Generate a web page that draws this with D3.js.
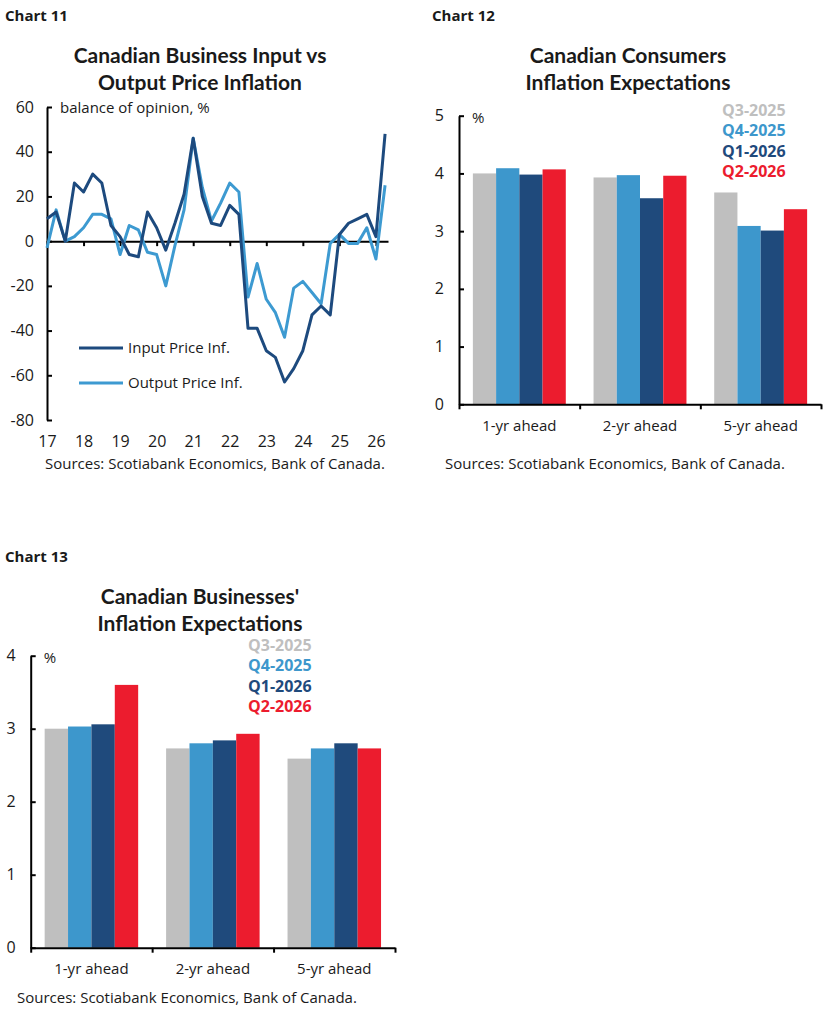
<!DOCTYPE html>
<html>
<head>
<meta charset="utf-8">
<title>Inflation charts</title>
<style>
  body { margin: 0; background: #fff; }
  svg text { font-family: "Open Sans", sans-serif; fill: #1a1a1a; }
  .label { font-weight: 700; font-size: 15px; }
  .title { font-family: Lato, sans-serif; font-weight: 700; font-size: 21px; }
  .tick text { font-size: 15px; }
  .src { font-size: 15px; }
  .legend { font-weight: 700; font-size: 16px; }
  .domain, .tick line { stroke: #000; stroke-width: 2px; }
</style>
</head>
<body>
<svg width="828" height="1023"></svg>
<script src="https://cdnjs.cloudflare.com/ajax/libs/d3/7.8.5/d3.min.js"></script>
<script>
// ---- chart 11 data: quarterly 2017Q1 .. 2026Q2
var quarters = d3.range(38).map(function(i){ return 2017 + i / 4; });
var inputPrice = [10, 13, 0, 26, 22, 30, 26, 7, 2, -6, -7, 13, 6, -4, 8, 21,
                  46, 20, 8, 7, 16, 12, -39, -39, -49, -52, -63, -57, -49, -33,
                  -29, -33, 3, 8, 10, 12, 2, 48];
var outputPrice = [-3, 14, 0, 2, 6, 12, 12, 10, -6, 7, 5, -5, -6, -20, -2, 14,
                   46, 24, 9, 17, 26, 22, -25, -10, -26, -32, -43, -21, -18, -23,
                   -28, -1, 3, -1, -1, 6, -8, 25];
var yearTicks = d3.range(2017, 2027);

// ---- charts 12 and 13
var horizons = ["1-yr ahead", "2-yr ahead", "5-yr ahead"];
var surveys = ["Q3-2025", "Q4-2025", "Q1-2026", "Q2-2026"];
var consumers = [
  [4.0, 4.09, 3.98, 4.07],
  [3.93, 3.97, 3.57, 3.96],
  [3.67, 3.09, 3.01, 3.38]
];
var businesses = [
  [3.0, 3.03, 3.06, 3.6],
  [2.73, 2.8, 2.84, 2.93],
  [2.59, 2.73, 2.8, 2.73]
];
var surveyColors = ["#bfbfbf", "#3d97cc", "#1f4a7c", "#ec1c2e"];

var svg = d3.select("svg");
var plain = function(d){ return String(d); };   // hyphen minus like the original

function header(x, y, chartName, lines, cx) {
  svg.append("text").attr("class", "label").attr("x", x).attr("y", y).text(chartName);
  lines.forEach(function(t, i){
    svg.append("text").attr("class", "title")
      .attr("x", cx).attr("y", y + 42 + i * 27)
      .attr("text-anchor", "middle").text(t);
  });
}

// ================= Chart 11 =================
header(5, 21, "Chart 11", ["Canadian Business Input vs", "Output Price Inflation"], 200);

var x11 = d3.scaleLinear().domain([2017, 2026.33]).range([47, 388]);
var y11 = d3.scaleLinear().domain([-80, 60]).range([420, 107]);

var g11 = svg.append("g");
g11.append("g").attr("transform", "translate(47,0)")
  .call(d3.axisLeft(y11).tickValues(d3.range(-80, 61, 20)).tickSize(-5).tickSizeOuter(0).tickPadding(13).tickFormat(plain))
  .call(function(g){ g.selectAll(".tick text").style("font-size", "16px"); });

g11.append("g").attr("transform", "translate(0," + y11(0) + ")")
  .call(d3.axisBottom(x11).tickValues(yearTicks).tickSize(5).tickSizeOuter(0).tickFormat(""));

g11.append("g").attr("transform", "translate(0,421)")
  .call(d3.axisBottom(x11).tickValues(yearTicks).tickSize(0).tickPadding(15)
    .tickFormat(function(d){ return String(d).slice(2); }))
  .call(function(g){ g.select(".domain").remove(); g.selectAll(".tick text").style("font-size", "16px"); });

svg.append("text").attr("x", 60).attr("y", 113).style("font-size", "15px").text("balance of opinion, %");

var line11 = function(vals){
  return d3.line().x(function(d, i){ return x11(quarters[i]); }).y(function(d){ return y11(d); })(vals);
};
g11.append("path").attr("d", line11(outputPrice)).attr("fill", "none")
  .attr("stroke", "#3d9ad1").attr("stroke-width", 3).attr("stroke-linejoin", "round");
g11.append("path").attr("d", line11(inputPrice)).attr("fill", "none")
  .attr("stroke", "#1d4a7e").attr("stroke-width", 3).attr("stroke-linejoin", "round");

[["Input Price Inf.", "#1d4a7e", 348], ["Output Price Inf.", "#3d9ad1", 383]].forEach(function(l){
  g11.append("line").attr("x1", 79).attr("x2", 123).attr("y1", l[2]).attr("y2", l[2])
    .attr("stroke", l[1]).attr("stroke-width", 3);
  g11.append("text").attr("x", 128).attr("y", l[2] + 5).style("font-size", "15px").text(l[0]);
});

svg.append("text").attr("class", "src").attr("x", 45).attr("y", 469)
  .text("Sources: Scotiabank Economics, Bank of Canada.");

// ================= grouped bar helper =================
function barChart(opt) {
  var g = svg.append("g");
  var x0 = d3.scaleBand().domain(horizons).range([opt.left, opt.right])
    .paddingInner(0.23).paddingOuter(0.115);
  var x1 = d3.scaleBand().domain(surveys).range([0, x0.bandwidth()]);
  var y = d3.scaleLinear().domain([0, opt.max]).range([opt.bottom, opt.top]);

  horizons.forEach(function(h, hi){
    g.append("g").selectAll("rect").data(opt.values[hi]).enter().append("rect")
      .attr("x", function(d, i){ return x0(h) + x1(surveys[i]); })
      .attr("y", function(d){ return y(d); })
      .attr("width", x1.bandwidth())
      .attr("height", function(d){ return y(0) - y(d); })
      .attr("fill", function(d, i){ return surveyColors[i]; });
  });

  g.append("g").attr("transform", "translate(" + opt.left + ",0)")
    .call(d3.axisLeft(y).ticks(opt.max).tickSize(-5).tickSizeOuter(0).tickPadding(15).tickFormat(d3.format("d")))
    .call(function(a){ a.selectAll(".tick text").style("font-size", "16px"); });

  // category boundary ticks on the base line
  var xb = d3.scaleLinear().domain([0, horizons.length]).range([opt.left, opt.right]);
  g.append("g").attr("transform", "translate(0," + opt.bottom + ")")
    .call(d3.axisBottom(xb).tickValues(d3.range(horizons.length + 1)).tickSize(5).tickSizeOuter(0).tickFormat(""));

  g.append("g").attr("transform", "translate(0," + opt.bottom + ")")
    .call(d3.axisBottom(x0).tickSize(0).tickPadding(16))
    .call(function(a){ a.select(".domain").remove(); });

  g.append("text").attr("x", opt.left + 13).attr("y", opt.top + 7).style("font-size", "15px").text("%");

  surveys.forEach(function(s, i){
    g.append("text").attr("class", "legend").attr("x", opt.legX).attr("y", opt.legY + i * 20.3)
      .style("fill", surveyColors[i]).text(s);
  });
}

// ================= Chart 12 =================
header(432, 21, "Chart 12", ["Canadian Consumers", "Inflation Expectations"], 628);
barChart({ values: consumers, max: 5, left: 459, right: 821, top: 115.7, bottom: 404.3, legX: 722, legY: 116 });
svg.append("text").attr("class", "src").attr("x", 445).attr("y", 469)
  .text("Sources: Scotiabank Economics, Bank of Canada.");

// ================= Chart 13 =================
header(5, 562, "Chart 13", ["Canadian Businesses'", "Inflation Expectations"], 200);
barChart({ values: businesses, max: 4, left: 30.7, right: 395, top: 655.7, bottom: 947.7, legX: 248, legY: 651 });
svg.append("text").attr("class", "src").attr("x", 17).attr("y", 1003)
  .text("Sources: Scotiabank Economics, Bank of Canada.");
</script>
</body>
</html>
